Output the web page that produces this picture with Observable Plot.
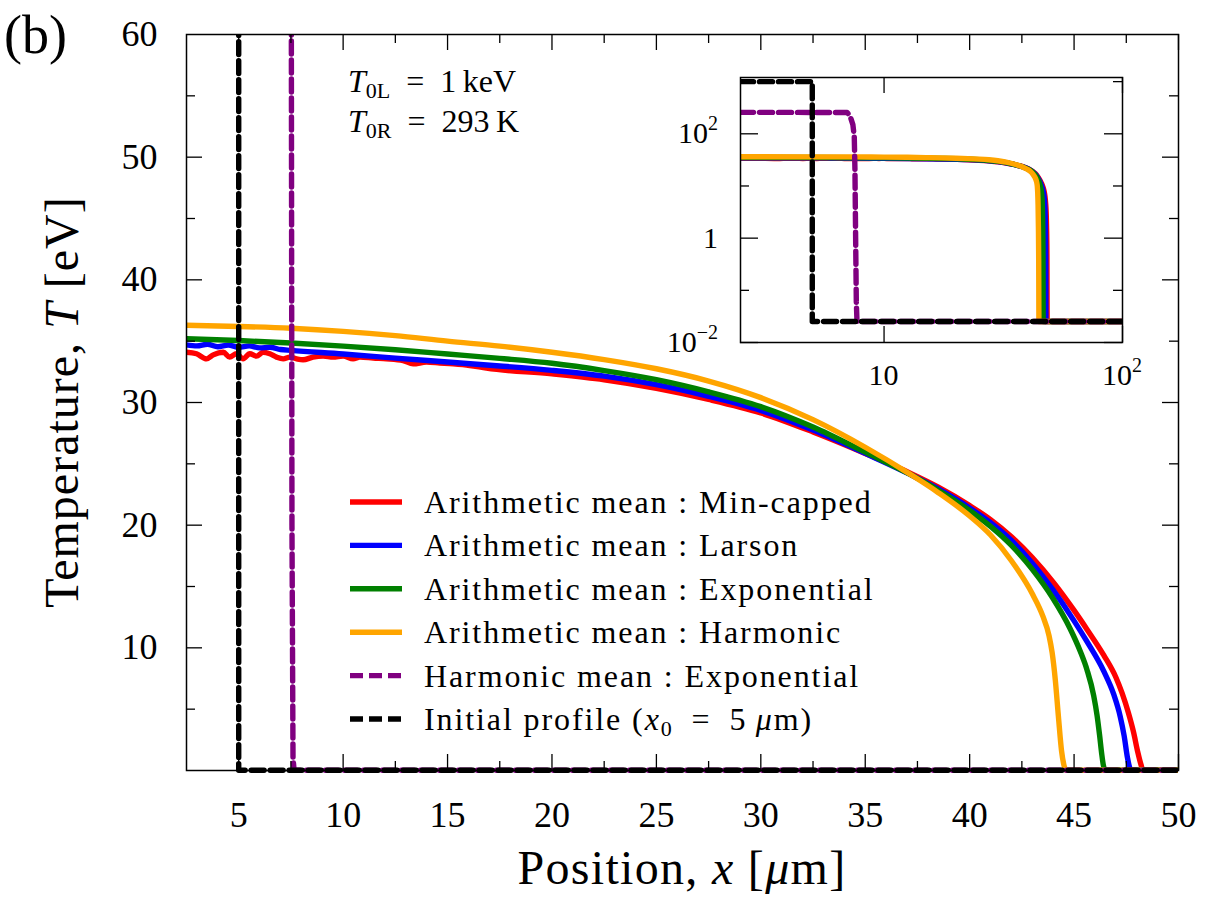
<!DOCTYPE html>
<html><head><meta charset="utf-8">
<script src="https://cdn.jsdelivr.net/npm/d3@7"></script>
<script src="https://cdn.jsdelivr.net/npm/@observablehq/plot@0.6"></script>
<style>
body{margin:0;background:#fff;}
#wrap{position:relative;width:1220px;height:900px;overflow:hidden;}
#wrap svg{position:absolute;}
</style></head><body><div id="wrap"></div>
<script>
// ---------------- data (T in eV, x in micrometres) ----------------
const baseT = 0.0252; // 293 K expressed in eV
const redX = [2.5,2.98,3.46,3.78,4.26,4.57,4.89,5.21,5.53,5.85,6.17,6.49,6.81,7.13,7.45,7.77,8.08,8.56,9.04,9.52,10.0,10.48,10.8,11.44,12.07,12.87,13.35,13.99,14.63,15.27,16.06,16.86,20,22.5,25,27.5,30,32.5,35,37.2,38.5,40,41,42,43,44,45,45.62,46.42,47.0,47.3,47.6,47.85,48.05,48.2,48.3,50,100];
const redT = [34.10,33.97,33.56,33.88,34.10,33.70,33.97,33.56,33.97,33.78,34.10,33.97,33.70,33.56,33.70,33.56,33.48,33.70,33.78,33.70,33.78,33.56,33.70,33.62,33.56,33.42,33.15,33.29,33.22,33.15,33.02,32.80,32.33,31.85,31.15,30.25,29.15,27.6,25.85,24.2,23.1,21.6,20.45,19.05,17.35,15.35,13.05,11.5,9.4,7.6,6.3,4.7,3.1,1.5,0.5,0.0252,0.0252,0.0252];
const blueX = [2.5,3.0,3.5,4.0,4.5,5.0,5.5,6.0,6.5,7.0,7.5,10,12.5,15,17.5,20,22.5,25,27.5,30,32.5,35,37.2,38.5,40,41,42,43,44,45,45.62,46.42,46.9,47.21,47.4,47.55,47.65,47.72,50,100];
const blueT = [34.70,34.62,34.75,34.55,34.68,34.50,34.62,34.45,34.5,34.32,34.25,33.95,33.62,33.3,32.98,32.62,32.15,31.45,30.5,29.35,27.75,25.85,24.1,22.95,21.4,20.2,18.75,16.9,14.7,12.2,10.5,8.1,6.2,4.4,2.8,1.1,0.3,0.0252,0.0252,0.0252];
const greenX = [2.5,5,7.5,10,12.5,15,17.5,20,22.5,25,27.5,30,32.5,35,37.2,38.5,40,41,42,43,44,44.8,45.3,45.62,45.94,46.1,46.22,46.32,46.4,46.48,50,100];
const greenT = [35.2,35.05,34.85,34.6,34.3,33.95,33.6,33.2,32.6,31.86,30.87,29.66,28.0,25.95,24.1,22.85,21.2,19.9,18.35,16.4,14.0,11.6,9.7,8.2,6.1,4.5,2.9,1.4,0.45,0.0252,0.0252,0.0252];
const orangeX = [2.5,5,7.5,10,12.5,15,17.5,20,22.5,25,27.5,30,32.5,35,37.2,38.5,40,41,42,43,43.5,43.8,43.95,44.1,44.25,44.4,44.52,44.62,50,100];
const orangeT = [36.3,36.2,36.05,35.8,35.45,35.0,34.6,34.1,33.5,32.75,31.75,30.4,28.6,26.35,24.1,22.65,20.75,19.2,17.1,14.4,12.6,11.0,9.6,7.4,4.4,1.6,0.4,0.0252,0.0252,0.0252];
const purpleX = [2.5,7.0,7.2,7.4,7.5,7.55,7.6,7.65,7.7,100];
const purpleT = [258,256,220,150,88,20,1,0.06,0.0252,0.0252];
const blackX = [2.5,5,5,100];
const blackT = [1000,1000,0.0252,0.0252];

const seriesNames = ["Arithmetic mean : Min-capped","Arithmetic mean : Larson","Arithmetic mean : Exponential","Arithmetic mean : Harmonic","Harmonic mean : Exponential","Initial profile"];
const seriesColors = ["#ff0000","#0000ff","#008000","#ffa500","#800080","#000000"];
const seriesDashed = [false,false,false,false,true,true];
const seriesXs = [redX,blueX,greenX,orangeX,purpleX,blackX];
const seriesTs = [redT,blueT,greenT,orangeT,purpleT,blackT];

const xTickLabels = [5,10,15,20,25,30,35,40,45,50];
const xMinorTicks = [7.5,12.5,17.5,22.5,27.5,32.5,37.5,42.5,47.5];
const yTickLabels = [10,20,30,40,50,60];
const yMajorTicks = [10,20,30,40,50];
const yMinorTicks = [5,15,25,35,45,55];
const insetYMajor = [0.01,1,100];
const insetYMinor = [0.1,10,1000];
const insetXMajor = [10,100];

// ---------------- layout ----------------
const FONT = "'Liberation Serif','Times New Roman',serif";
const W = 1220, H = 900, mL = 186, mR = 42, mT = 34, mB = 130;
const innerW = W - mL - mR, innerH = H - mT - mB;
const DASH = "13,6";
const LW = 5.4;
const rows = i => seriesXs[i].map((x, j) => ({x, T: seriesTs[i][j]}));

const lineMarks = (clip) => seriesNames.map((n, i) => Plot.line(rows(i), {
  x: "x", y: "T", stroke: seriesColors[i], strokeWidth: LW,
  strokeDasharray: seriesDashed[i] ? DASH : null, clip,
  curve: seriesDashed[i] ? "linear" : "monotone-x"
}));

const main = Plot.plot({
  width: W, height: H, marginLeft: mL, marginRight: mR, marginTop: mT, marginBottom: mB,
  style: {fontFamily: FONT, fontSize: "36px", background: "transparent", color: "black"},
  x: {domain: [2.5, 50]},
  y: {domain: [0, 60]},
  marks: [
    ...lineMarks(true),
    Plot.ruleX(xTickLabels, {x: d => d, insetTop: innerH - 16, strokeWidth: 1.3}),
    Plot.ruleX(xTickLabels, {x: d => d, insetBottom: innerH - 16, strokeWidth: 1.3}),
    Plot.ruleX(xMinorTicks, {x: d => d, insetTop: innerH - 9, strokeWidth: 1.3}),
    Plot.ruleX(xMinorTicks, {x: d => d, insetBottom: innerH - 9, strokeWidth: 1.3}),
    Plot.ruleY(yMajorTicks, {y: d => d, insetRight: innerW - 16, strokeWidth: 1.3}),
    Plot.ruleY(yMajorTicks, {y: d => d, insetLeft: innerW - 16, strokeWidth: 1.3}),
    Plot.ruleY(yMinorTicks, {y: d => d, insetRight: innerW - 9, strokeWidth: 1.3}),
    Plot.ruleY(yMinorTicks, {y: d => d, insetLeft: innerW - 9, strokeWidth: 1.3}),
    Plot.frame({stroke: "black", strokeWidth: 1.5}),
    Plot.axisX({ticks: xTickLabels, tickSize: 0, tickPadding: 31, fontSize: 36, label: null}),
    Plot.axisY({ticks: yTickLabels, tickSize: 0, tickPadding: 29, fontSize: 36, label: null})
  ]
});
main.style.left = "0px"; main.style.top = "0px";
document.getElementById("wrap").appendChild(main);
// let the baseline (at the bottom edge) show at full width, as in the reference
d3.select(main).selectAll("clipPath rect").each(function () {
  const h = +this.getAttribute("height");
  if (h) this.setAttribute("height", h + 3);
});

const svg = d3.select(main);
const txt = (x, y, size) => svg.append("text").attr("x", x).attr("y", y)
  .attr("text-anchor", "start")
  .attr("font-family", FONT).attr("font-size", size).attr("fill", "black");

// panel tag
txt(4, 53, 54).text("(b)");

// axis labels
const xl = txt(682, 884, 48).attr("text-anchor", "middle").attr("letter-spacing", "1.3px");
xl.append("tspan").text("Position, ");
xl.append("tspan").attr("font-style", "italic").text("x");
xl.append("tspan").text(" [");
xl.append("tspan").attr("font-style", "italic").text("μ");
xl.append("tspan").text("m]");

const yl = svg.append("text").attr("transform", "translate(78,402) rotate(-90)")
  .attr("text-anchor", "middle").attr("font-family", FONT).attr("font-size", 48)
  .attr("letter-spacing", "1px").attr("fill", "black");
yl.append("tspan").text("Temperature, ");
yl.append("tspan").attr("font-style", "italic").text("T");
yl.append("tspan").text(" [eV]");

// annotation
function annot(y, sub, rest) {
  const t = txt(348, y, 32);
  t.append("tspan").attr("font-style", "italic").text("T");
  t.append("tspan").attr("font-size", 22).attr("dy", 6).text(sub);
  t.append("tspan").attr("dy", -6).text("\u2002=\u2002" + rest);
}
annot(92, "0L", "1\u2009keV");
annot(132, "0R", "293\u2009K");

// legend
const lg = svg.append("g");
seriesNames.forEach((name, i) => {
  const y = 502 + i * 43.4;
  lg.append("line").attr("x1", 350).attr("x2", 402).attr("y1", y).attr("y2", y)
    .attr("stroke", seriesColors[i]).attr("stroke-width", LW)
    .attr("stroke-dasharray", seriesDashed[i] ? DASH : null);
  const t = lg.append("text").attr("x", 424).attr("y", y + 11).attr("text-anchor", "start")
    .attr("font-family", FONT).attr("font-size", 32).attr("letter-spacing", "1.9px").attr("fill", "black");
  if (i === 5) {
    t.append("tspan").text(name + " (");
    t.append("tspan").attr("font-style", "italic").text("x");
    t.append("tspan").attr("font-size", 22).attr("dy", 6).text("0");
    t.append("tspan").attr("dy", -6).text("\u2002=\u20025\u2009");
    t.append("tspan").attr("font-style", "italic").text("μ");
    t.append("tspan").text("m)");
  } else {
    t.text(name);
  }
});

// ---------------- inset ----------------
const IW = 522, IH = 335, iL = 100, iR = 40, iT = 10, iB = 60;
const iInnerW = IW - iL - iR, iInnerH = IH - iT - iB;
const inset = Plot.plot({
  width: IW, height: IH, marginLeft: iL, marginRight: iR, marginTop: iT, marginBottom: iB,
  style: {fontFamily: FONT, background: "transparent", color: "black"},
  x: {type: "log", domain: [2.5, 100], axis: null},
  y: {type: "log", domain: [0.01, 1200], axis: null},
  marks: [
    Plot.frame({fill: "white", stroke: "none"}),
    ...lineMarks(true),
    Plot.ruleY(insetYMajor, {y: d => d, insetRight: iInnerW - 18, strokeWidth: 1.3}),
    Plot.ruleY(insetYMajor, {y: d => d, insetLeft: iInnerW - 18, strokeWidth: 1.3}),
    Plot.ruleY(insetYMinor, {y: d => d, insetRight: iInnerW - 9, strokeWidth: 1.3}),
    Plot.ruleY(insetYMinor, {y: d => d, insetLeft: iInnerW - 9, strokeWidth: 1.3}),
    Plot.ruleX(insetXMajor, {x: d => d, insetTop: iInnerH - 16, strokeWidth: 1.3}),
    Plot.ruleX(insetXMajor, {x: d => d, insetBottom: iInnerH - 16, strokeWidth: 1.3}),
    Plot.frame({stroke: "black", strokeWidth: 1.5})
  ]
});
inset.style.left = (740 - iL) + "px"; inset.style.top = (77 - iT) + "px";
document.getElementById("wrap").appendChild(inset);

const isvg = d3.select(inset);
const sx = inset.scale("x"), sy = inset.scale("y");
function powLabel(t, exp) {
  t.append("tspan").text("10");
  t.append("tspan").attr("font-size", 20).attr("dy", -13).text(exp);
}
insetYMajor.forEach(v => {
  const t = isvg.append("text").attr("x", iL - 22).attr("y", sy.apply(v) + 10)
    .attr("text-anchor", "end").attr("font-family", FONT).attr("font-size", 30).attr("fill", "black");
  if (v === 1) t.text("1");
  else powLabel(t, v > 1 ? "2" : "\u22122");
});
insetXMajor.forEach(v => {
  const t = isvg.append("text").attr("x", sx.apply(v)).attr("y", iT + iInnerH + 43)
    .attr("text-anchor", "middle").attr("font-family", FONT).attr("font-size", 30).attr("fill", "black");
  if (v === 10) t.text("10");
  else powLabel(t, "2");
});
</script></body></html>
